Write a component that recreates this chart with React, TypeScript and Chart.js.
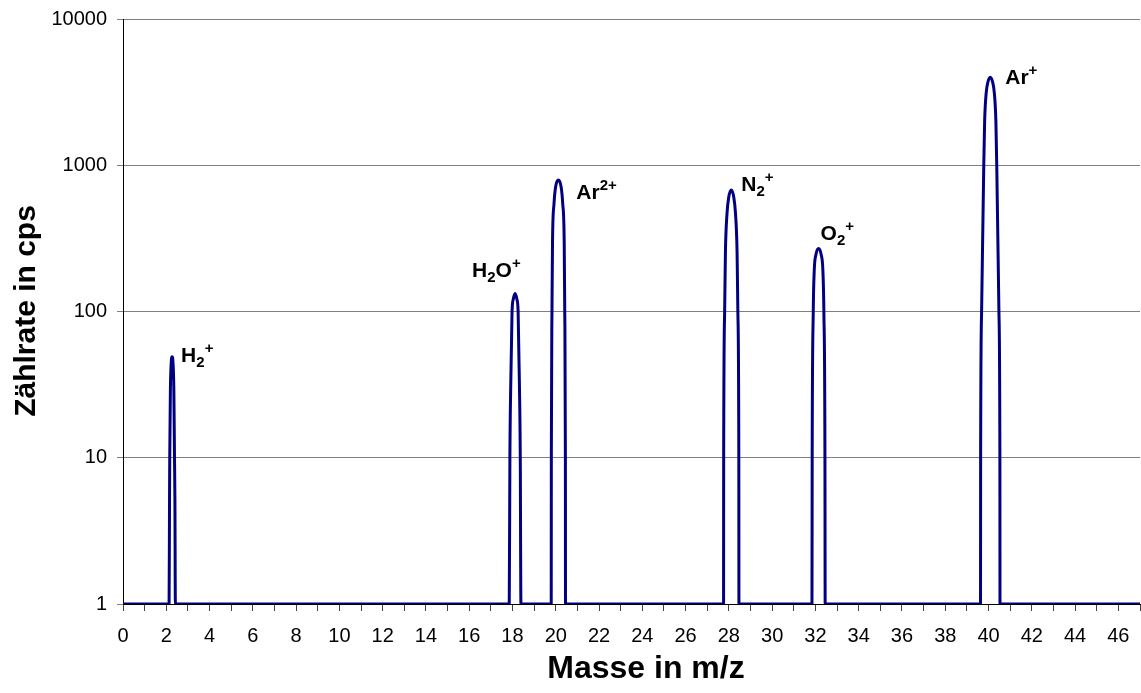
import React, { useEffect, useRef } from 'react';
import { Chart, registerables } from 'chart.js';

Chart.register(...registerables);

// ---- Data ----
const xTickStep = 1;
const xLabelEvery = 2;
const xMin = 0;
const xMax = 47;
const xLastLabel = 46;
const yTickValues = [1, 10, 100, 1000, 10000];

const baselineMass = [0, 47];
const baselineCounts = [1, 1];

const h2Mass = [2.13, 2.15, 2.16, 2.19, 2.23, 2.27, 2.31, 2.35, 2.38, 2.4, 2.42];
const h2Counts = [1, 5, 10, 29, 45, 49, 45, 29, 10, 5, 1];

const h2oMass = [17.85, 17.88, 17.92, 17.98, 18.04, 18.12, 18.2, 18.26, 18.32, 18.36, 18.39];
const h2oCounts = [1, 10, 32, 100, 122, 133, 122, 100, 32, 10, 1];

const ar2Mass = [19.79, 19.795, 19.825, 19.85, 19.92, 19.99, 20.12, 20.25, 20.32, 20.39, 20.415, 20.445, 20.45];
const ar2Counts = [1, 10, 100, 300, 550, 708, 793, 708, 550, 300, 100, 10, 1];

const n2Mass = [27.755, 27.76, 27.805, 27.84, 27.915, 27.99, 28.11, 28.23, 28.305, 28.38, 28.415, 28.46, 28.465];
const n2Counts = [1, 10, 100, 250, 470, 600, 677, 600, 470, 250, 100, 10, 1];

const o2Mass = [31.84, 31.85, 31.9, 31.945, 32.025, 32.145, 32.265, 32.345, 32.39, 32.44, 32.45];
const o2Counts = [1, 10, 100, 190, 245, 270, 245, 190, 100, 10, 1];

const arMass = [39.63, 39.635, 39.68, 39.78, 39.82, 39.89, 39.97, 40.08, 40.19, 40.27, 40.34, 40.38, 40.48, 40.525, 40.53];
const arCounts = [1, 10, 100, 1000, 2000, 3100, 3700, 4000, 3700, 3100, 2000, 1000, 100, 10, 1];

// peak labels: anchor (mass, counts) and text parts [text, kind]
const labelMass = [2.27, 18.12, 20.12, 28.11, 32.145, 40.08];
const labelCounts = [49, 133, 793, 677, 270, 4000];
const labelParts: [string, string][][] = [
  [['H', ''], ['2', 'sub'], ['+', 'sup']],
  [['H', ''], ['2', 'sub'], ['O', ''], ['+', 'sup']],
  [['Ar', ''], ['2+', 'sup']],
  [['N', ''], ['2', 'sub'], ['+', 'sup']],
  [['O', ''], ['2', 'sub'], ['+', 'sup']],
  [['Ar', ''], ['+', 'sup']],
];

const xTitle = 'Masse in m/z';
const yTitle = 'Zählrate in cps';

// ---- Styles ----
const FONT = "'Liberation Sans', Arial, Helvetica, sans-serif";
const labelOffsets = [
  [9, 5],
  [-43, -16],
  [18, 19],
  [10, 1],
  [2, -8],
  [15, 7],
];
const xTitlePos = { cx: 646, baseline: 678, size: 32 };
const yTitlePos = { cy: 311, baseline: 35, size: 30 };

function buildPoints() {
  const groups: [number[], number[]][] = [
    [baselineMass, baselineCounts],
    [h2Mass, h2Counts],
    [h2oMass, h2oCounts],
    [ar2Mass, ar2Counts],
    [n2Mass, n2Counts],
    [o2Mass, o2Counts],
    [arMass, arCounts],
  ];
  const pts: { x: number; y: number }[] = [];
  groups.forEach(([ms, cs]) => ms.forEach((m, i) => pts.push({ x: m, y: cs[i] })));
  pts.sort((a, b) => a.x - b.x);
  return pts;
}

const peakLabelPlugin = {
  id: 'peakLabels',
  afterDatasetsDraw(chart: any) {
    const { ctx, scales } = chart;
    const xs = scales.x;
    const ys = scales.y;
    ctx.save();
    ctx.fillStyle = '#000';
    ctx.textBaseline = 'alphabetic';
    ctx.textAlign = 'left';
    labelParts.forEach((parts, i) => {
      let px = xs.getPixelForValue(labelMass[i]) + labelOffsets[i][0];
      const base = ys.getPixelForValue(labelCounts[i]) + labelOffsets[i][1];
      parts.forEach(([text, kind]) => {
        ctx.font = kind ? `bold 15px ${FONT}` : `bold 21px ${FONT}`;
        const dy = kind === 'sub' ? 5 : kind === 'sup' ? -9 : 0;
        ctx.fillText(text, px, base + dy);
        px += ctx.measureText(text).width;
      });
    });
    // axis titles
    ctx.font = `bold ${xTitlePos.size}px ${FONT}`;
    ctx.textAlign = 'center';
    ctx.fillText(xTitle, xTitlePos.cx, xTitlePos.baseline);
    ctx.save();
    ctx.translate(yTitlePos.baseline, yTitlePos.cy);
    ctx.rotate(-Math.PI / 2);
    ctx.font = `bold ${yTitlePos.size}px ${FONT}`;
    ctx.fillText(yTitle, 0, 0);
    ctx.restore();
    ctx.restore();
  },
};

export default function App() {
  const canvasRef = useRef<HTMLCanvasElement | null>(null);

  useEffect(() => {
    if (!canvasRef.current) return;
    const chart = new Chart(canvasRef.current, {
      type: 'line',
      data: {
        datasets: [
          {
            data: buildPoints(),
            borderColor: '#000080',
            borderWidth: 3,
            pointRadius: 0,
            fill: false,
            cubicInterpolationMode: 'monotone',
          },
        ],
      },
      options: {
        responsive: false,
        animation: false,
        events: [],
        layout: { padding: { left: 0, right: 1, top: 19, bottom: 0 } },
        plugins: { legend: { display: false }, tooltip: { enabled: false } },
        scales: {
          x: {
            type: 'linear',
            min: xMin,
            max: xMax,
            afterFit: (s: any) => {
              s.height = 89;
              s.paddingLeft = 0;
              s.paddingRight = 0;
            },
            ticks: {
              stepSize: xTickStep,
              autoSkip: false,
              maxRotation: 0,
              padding: 13,
              color: '#000',
              font: { family: FONT, size: 20 },
              callback: (v: any) => (v % xLabelEvery === 0 && v <= xLastLabel ? String(v) : ''),
            },
            grid: {
              display: true,
              drawOnChartArea: false,
              drawTicks: true,
              tickLength: 7,
              tickColor: '#404040',
            },
            border: { display: true, color: '#000', width: 1 },
          },
          y: {
            type: 'logarithmic',
            min: 1,
            max: 10000,
            afterFit: (s: any) => {
              s.width = 123;
              s.paddingTop = 0;
              s.paddingBottom = 0;
            },
            afterBuildTicks: (s: any) => {
              s.ticks = yTickValues.map((v) => ({ value: v }));
            },
            ticks: {
              padding: 10,
              color: '#000',
              font: { family: FONT, size: 20 },
              callback: (v: any) => String(v),
            },
            grid: {
              color: '#808080',
              lineWidth: 1,
              drawTicks: true,
              tickLength: 6,
              tickColor: '#808080',
            },
            border: { display: true, color: '#000', width: 1 },
          },
        },
      } as any,
      plugins: [peakLabelPlugin],
    });
    return () => chart.destroy();
  }, []);

  return (
    <div style={{ position: 'absolute', left: 0, top: 0, width: 1141, height: 693, background: '#fff' }}>
      <canvas ref={canvasRef} width={1141} height={693} />
    </div>
  );
}
